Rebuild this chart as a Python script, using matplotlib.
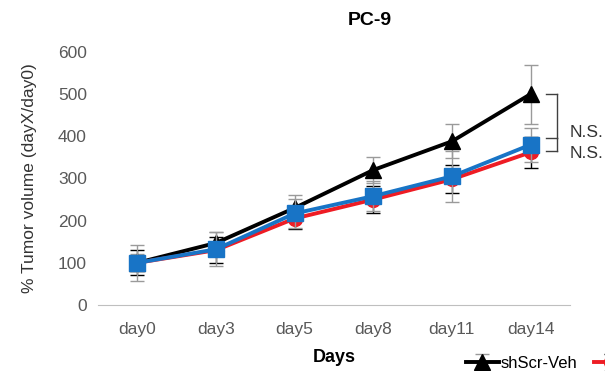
import matplotlib
matplotlib.use("Agg")
import matplotlib.pyplot as plt

plt.rcParams["font.family"] = ["Liberation Sans", "DejaVu Sans"]

days = ["day0", "day3", "day5", "day8", "day11", "day14"]

veh = [100, 147, 230, 320, 388, 500]
veh_err = [20, 25, 30, 30, 40, 70]
red_grp = [100, 130, 205, 250, 298, 362]
red_err = [30, 30, 25, 32, 33, 37]
blue_grp = [100, 132, 217, 258, 305, 380]
blue_err = [43, 40, 35, 35, 60, 40]

labels = ["shScr-Veh", "shScr-Drug", "shKD-Drug"]

fig = plt.figure(figsize=(6.05, 3.71), dpi=100)
ax = fig.add_axes([0.162, 0.178, 0.78, 0.682])
x = list(range(len(days)))

h1 = ax.errorbar(x, veh, yerr=veh_err, color="black", lw=2.8, marker="^", ms=11,
                 ecolor="#9a9a9a", elinewidth=1, capsize=5, capthick=1, zorder=3)
h2 = ax.errorbar(x, red_grp, yerr=red_err, color="#ee1c24", lw=2.8, marker="o", ms=10,
                 ecolor="black", elinewidth=1, capsize=5, capthick=1, zorder=4)
h3 = ax.errorbar(x, blue_grp, yerr=blue_err, color="#1874c6", lw=2.8, marker="s", ms=11,
                 ecolor="#9a9a9a", elinewidth=1, capsize=5, capthick=1, zorder=5)

ax.set_xlim(-0.5, 5.5)
ax.set_ylim(0, 600)
ax.set_yticks(range(0, 601, 100))
ax.set_xticks(x)
ax.set_xticklabels(days)
ax.tick_params(axis="y", length=0, labelsize=12.5, colors="#595959", pad=8)
ax.tick_params(axis="x", length=0, labelsize=12.5, colors="#595959", pad=12)
for s in ["top", "right", "left"]:
    ax.spines[s].set_visible(False)
ax.spines["bottom"].set_color("#bfbfbf")

ax.set_xlabel("Days", fontsize=13, fontweight="bold", labelpad=9)
ax.set_ylabel("% Tumor volume (dayX/day0)", fontsize=12.5, color="#333333", labelpad=15)
fig.text(0.612, 0.945, "PC-9", ha="center", va="center", fontsize=14, fontweight="bold")

# significance brackets at day14
bx0, bx1 = 5.19, 5.34
for y0, y1 in [(500, 396), (396, 365)]:
    ax.plot([bx1, bx1], [y0, y1], color="#404040", lw=1, clip_on=False)
for yy in [500, 396, 365]:
    ax.plot([bx0, bx1], [yy, yy], color="#404040", lw=1, clip_on=False)
ax.text(5.5, 410, "N.S.", fontsize=12.5, color="#333333", va="center", clip_on=False)
ax.text(5.5, 358, "N.S.", fontsize=12.5, color="#333333", va="center", clip_on=False)

fig.legend([h1, h2, h3], labels, loc="center left", bbox_to_anchor=(0.745, 0.02),
           ncol=3, frameon=False, fontsize=12, handlelength=2.0, handletextpad=0.1,
           columnspacing=1.0)

fig.savefig("out.png", dpi=100)
